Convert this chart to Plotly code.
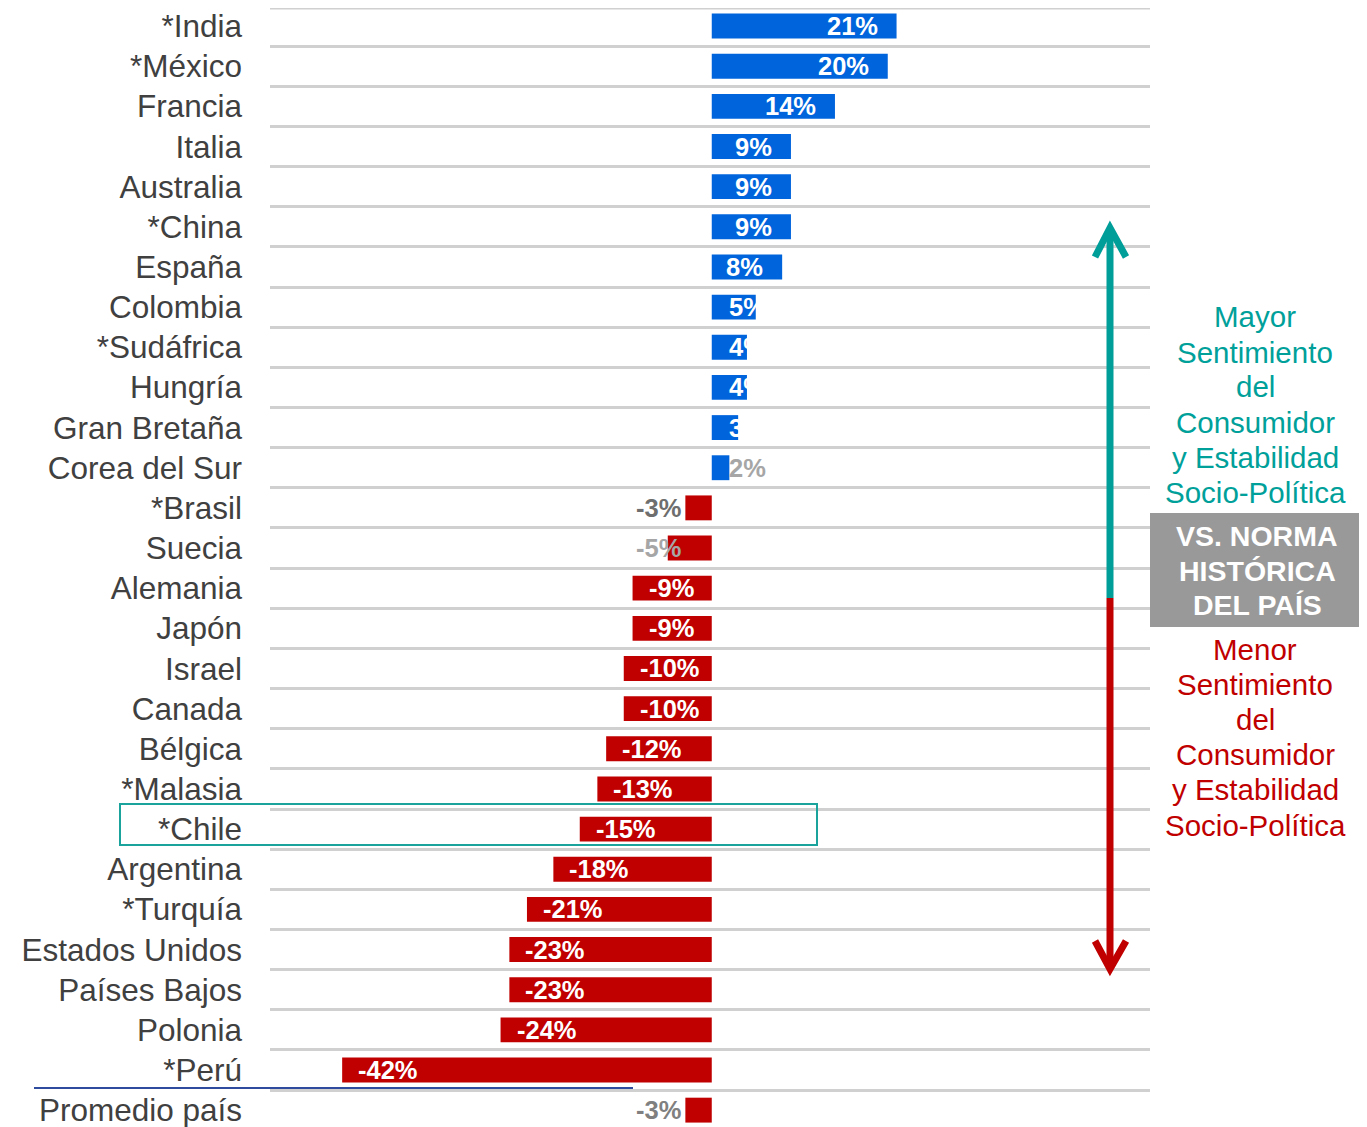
import plotly.graph_objects as go

countries = ["*India", "*México", "Francia", "Italia", "Australia", "*China", "España",
             "Colombia", "*Sudáfrica", "Hungría", "Gran Bretaña", "Corea del Sur", "*Brasil",
             "Suecia", "Alemania", "Japón", "Israel", "Canada", "Bélgica", "*Malasia", "*Chile",
             "Argentina", "*Turquía", "Estados Unidos", "Países Bajos", "Polonia", "*Perú",
             "Promedio país"]
values = [21, 20, 14, 9, 9, 9, 8, 5, 4, 4, 3, 2, -3, -5, -9, -9, -10, -10, -12, -13, -15,
          -18, -21, -23, -23, -24, -42, -3]
labels = [f"{v}%" for v in values]

# labels Excel put outside the bars, in gray
gray_labels = {"Corea del Sur": "#a6a6a6", "*Brasil": "#6e6e6e",
               "Suecia": "#a6a6a6", "Promedio país": "#808080"}

up_lines = ["Mayor", "Sentimiento", "del", "Consumidor", "y Estabilidad", "Socio-Política"]
down_lines = ["Menor", "Sentimiento", "del", "Consumidor", "y Estabilidad", "Socio-Política"]
box_lines = ["VS. NORMA", "HISTÓRICA", "DEL PAÍS"]

BLUE = "#0064dc"
RED = "#c00000"
TEAL = "#009e99"
FONT = "Liberation Sans, Arial, sans-serif"

# the page puts the figure 8px in from the top-left corner
OFF = 8
W, H = 1367 - OFF, 1127 - OFF
L, R, T, B = 270 - OFF, 217, 0, 0
PW, PH = W - L - R, H - T - B


def px(x, y):
    # page pixel position -> paper coordinates (decorations only)
    return (x - OFF - L) / PW, 1 - (y - OFF - T) / PH


fig = go.Figure()
fig.add_trace(go.Bar(
    x=values, y=countries, orientation="h",
    marker=dict(color=[BLUE if v > 0 else RED for v in values], line=dict(width=0)),
    hoverinfo="skip",
))

# data labels
for c, v, t in zip(countries, values, labels):
    color = gray_labels.get(c, "white")
    if v > 0:
        if v >= 8:
            x, anchor, shift = v, "right", -17
        else:
            x, anchor, shift = 0, "left", 15
    else:
        if c in gray_labels:
            x, anchor, shift = 0, "right", -29
        else:
            x, anchor, shift = v, "left", 14
    fig.add_annotation(x=x, y=c, xref="x", yref="y", text=f"<b>{t}</b>", showarrow=False,
                       xanchor=anchor, xshift=shift, yanchor="middle",
                       font=dict(family=FONT, size=25.5, color=color))

shapes = []
# top rule of the grid (sits at the plot edge)
shapes.append(dict(type="line", xref="paper", yref="paper", x0=0, x1=1, y0=1, y1=1,
                   line=dict(color="#d0d0d0", width=3), layer="below"))
# Chile highlight
x0, y0 = px(120, 804)
x1, y1 = px(817, 845)
shapes.append(dict(type="rect", xref="paper", yref="paper", x0=x0, y0=y0, x1=x1, y1=y1,
                   line=dict(color="#1aa39c", width=2)))
# line under Perú
x0, y0 = px(34, 1088)
x1, _ = px(633, 1088)
shapes.append(dict(type="line", xref="paper", yref="paper", x0=x0, y0=y0, x1=x1, y1=y0,
                   line=dict(color="#2f4b9e", width=2)))
# arrow
ax, _ = px(1110, 0)
_, ya = px(0, 230)
_, ym = px(0, 598)
_, yb = px(0, 966)
shapes.append(dict(type="line", xref="paper", yref="paper", x0=ax, x1=ax, y0=ya, y1=ym,
                   line=dict(color=TEAL, width=7)))
shapes.append(dict(type="line", xref="paper", yref="paper", x0=ax, x1=ax, y0=ym, y1=yb,
                   line=dict(color=RED, width=7)))


def chevron(tip_y, arm_y, color):
    a = px(1095, arm_y)
    b = px(1110, tip_y)
    c = px(1126, arm_y)
    return dict(type="path", xref="paper", yref="paper",
                path=f"M {a[0]},{a[1]} L {b[0]},{b[1]} L {c[0]},{c[1]}",
                line=dict(color=color, width=7))


shapes.append(chevron(228, 257, TEAL))
shapes.append(chevron(969, 941, RED))
# gray box
x0, y0 = px(1150, 513)
x1, y1 = px(1368, 627)
shapes.append(dict(type="rect", xref="paper", yref="paper", x0=x0, y0=y0, x1=x1, y1=y1,
                   fillcolor="#999999", line=dict(width=0), layer="above"))

for i, s in enumerate(up_lines):
    x, y = px(1255, 317 + i * 35)
    fig.add_annotation(x=x, y=y, xref="paper", yref="paper", text=s, showarrow=False,
                       xanchor="center", yanchor="middle",
                       font=dict(family=FONT, size=29.5, color="#00a09a"))
for i, s in enumerate(down_lines):
    x, y = px(1255, 649 + i * 35.2)
    fig.add_annotation(x=x, y=y, xref="paper", yref="paper", text=s, showarrow=False,
                       xanchor="center", yanchor="middle",
                       font=dict(family=FONT, size=29.5, color=RED))
for i, s in enumerate(box_lines):
    x, y = px(1257, 536 + i * 34.5)
    fig.add_annotation(x=x, y=y, xref="paper", yref="paper", text=f"<b>{s}</b>",
                       showarrow=False, xanchor="center", yanchor="middle",
                       font=dict(family=FONT, size=28.5, color="white"))

fig.update_layout(
    width=W, height=H,
    margin=dict(l=L, r=R, t=T, b=B),
    plot_bgcolor="white", paper_bgcolor="white",
    bargap=0.38, showlegend=False,
    shapes=shapes,
    xaxis=dict(range=[-50.2, 49.8], showgrid=False, zeroline=False, showticklabels=False,
               fixedrange=True),
    yaxis=dict(type="category", categoryorder="array", categoryarray=countries,
               range=[27.42, -0.45], tickson="boundaries", showgrid=True,
               gridcolor="#d0d0d0", gridwidth=3, ticks="", ticklabelstandoff=27,
               tickfont=dict(family=FONT, size=31.5, color="#404040"), fixedrange=True),
)

fig.write_html("out.html")
